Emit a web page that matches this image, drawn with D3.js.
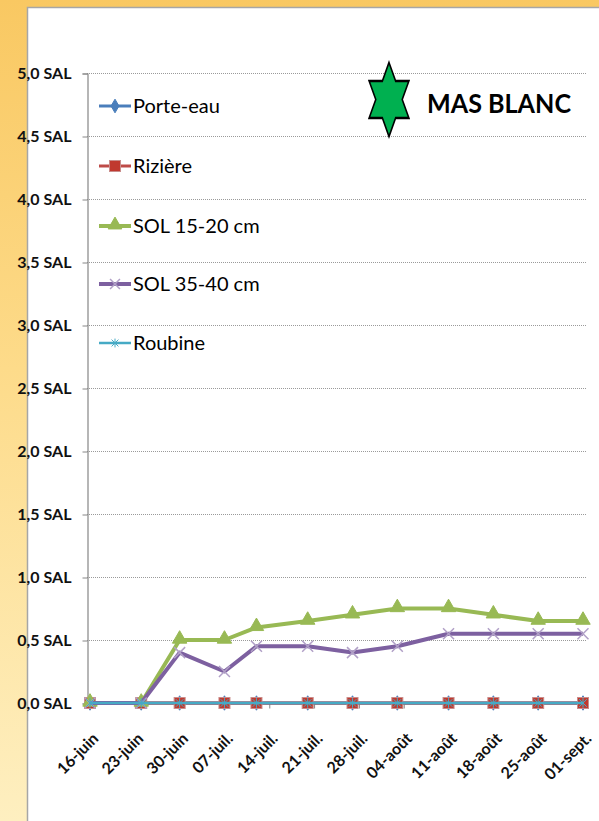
<!DOCTYPE html>
<html>
<head>
<meta charset="utf-8">
<script src="https://cdn.jsdelivr.net/npm/d3@7"></script>
<style>
  body { margin: 0; background: #fff; }
  svg { display: block; }
</style>
</head>
<body>
<div id="chart"></div>
<script>
// sample dates (measurement days) and weekly axis ticks
var sampleDates = ["2011-06-16", "2011-06-24", "2011-06-30", "2011-07-07", "2011-07-12", "2011-07-20",
                   "2011-07-27", "2011-08-03", "2011-08-11", "2011-08-18", "2011-08-25", "2011-09-01"];
var tickDates = ["2011-06-16", "2011-06-23", "2011-06-30", "2011-07-07", "2011-07-14", "2011-07-21",
                 "2011-07-28", "2011-08-04", "2011-08-11", "2011-08-18", "2011-08-25", "2011-09-01"];
var yTicks = [0, 0.5, 1, 1.5, 2, 2.5, 3, 3.5, 4, 4.5, 5];

var seriesNames = ["Porte-eau", "Rizière", "SOL 15-20 cm", "SOL 35-40 cm", "Roubine"];
var porteEau = [0, 0, 0, 0, 0, 0, 0, 0, 0, 0, 0, 0];
var riziere  = [0, 0, 0, 0, 0, 0, 0, 0, 0, 0, 0, 0];
var sol1520  = [0, 0, 0.5, 0.5, 0.6, 0.65, 0.7, 0.75, 0.75, 0.7, 0.65, 0.65];
var sol3540  = [0, 0, 0.4, 0.25, 0.45, 0.45, 0.4, 0.45, 0.55, 0.55, 0.55, 0.55];
var roubine  = [0, 0, 0, 0, 0, 0, 0, 0, 0, 0, 0, 0];

var title = "MAS BLANC";

var W = 599, H = 821;
var FONT = "Lato, 'Open Sans', sans-serif";
var parseDate = d3.timeParse("%Y-%m-%d");
var fr = d3.timeFormatLocale({
  dateTime: "%A %e %B %Y à %X", date: "%d/%m/%Y", time: "%H:%M:%S",
  periods: ["AM", "PM"],
  days: ["dimanche","lundi","mardi","mercredi","jeudi","vendredi","samedi"],
  shortDays: ["dim.","lun.","mar.","mer.","jeu.","ven.","sam."],
  months: ["janvier","février","mars","avril","mai","juin","juillet","août","septembre","octobre","novembre","décembre"],
  shortMonths: ["janv.","févr.","mars","avr.","mai","juin","juil.","août","sept.","oct.","nov.","déc."]
});
var fmtTick = fr.format("%d-%b");

var series = [
  {name: seriesNames[0], values: porteEau, color: "#4a7ebb", marker: "diamond", width: 3},
  {name: seriesNames[1], values: riziere,  color: "#be4b48", marker: "square",  width: 3},
  {name: seriesNames[2], values: sol1520,  color: "#98b954", marker: "triangle", width: 4},
  {name: seriesNames[3], values: sol3540,  color: "#7d60a0", marker: "cross",   width: 4},
  {name: seriesNames[4], values: roubine,  color: "#46aac5", marker: "star",    width: 2.5}
];

var svg = d3.select("#chart").append("svg")
    .attr("width", W).attr("height", H);

// background frame
var defs = svg.append("defs");
var grad = defs.append("linearGradient").attr("id", "bg")
    .attr("x1", 0).attr("y1", 0).attr("x2", 0).attr("y2", 1);
grad.append("stop").attr("offset", "0%").attr("stop-color", "#f9c862");
grad.append("stop").attr("offset", "45%").attr("stop-color", "#fddb8a");
grad.append("stop").attr("offset", "100%").attr("stop-color", "#feefc0");
svg.append("rect").attr("width", W).attr("height", H).attr("fill", "url(#bg)");
svg.append("rect").attr("x", 27.5).attr("y", 7.5).attr("width", W).attr("height", H)
    .attr("fill", "#fff").attr("stroke", "#a6a6a6").attr("stroke-width", 1.5);

var x = d3.scaleTime()
    .domain([parseDate(tickDates[0]), parseDate(tickDates[tickDates.length - 1])])
    .range([90, 583]);
var y = d3.scaleLinear().domain([0, 5]).range([703, 73]);

// gridlines
svg.append("g").selectAll("line").data(yTicks.slice(1)).enter().append("line")
    .attr("x1", 87).attr("x2", 586)
    .attr("y1", function(d) { return Math.round(y(d)) + 0.5; })
    .attr("y2", function(d) { return Math.round(y(d)) + 0.5; })
    .attr("stroke", "#9a9a9a").attr("stroke-width", 1).attr("stroke-dasharray", "1,1");

// y axis
var yAxis = svg.append("g").attr("transform", "translate(87.5,0.5)")
    .call(d3.axisLeft(y).tickValues(yTicks).tickSize(5).tickPadding(11)
      .tickFormat(function(d) { return d3.format(".1f")(d).replace(".", ",") + " SAL"; }));
yAxis.select(".domain").attr("stroke", "#868686").attr("stroke-width", 1.2);
yAxis.selectAll(".tick line").attr("stroke", "#868686");
yAxis.selectAll("text").attr("font-family", FONT)
    .attr("font-weight", "bold").attr("font-size", 16).attr("fill", "#111")
    .attr("dy", "0.34em");

// x axis
var xAxis = svg.append("g").attr("transform", "translate(0,703.5)")
    .call(d3.axisBottom(x).tickValues(tickDates.map(parseDate)).tickSize(5).tickSizeOuter(0)
      .tickFormat(fmtTick));
xAxis.select(".domain").attr("stroke", "#868686").attr("stroke-width", 1.2);
xAxis.selectAll(".tick line").attr("stroke", "#868686");
xAxis.selectAll("text")
    .attr("font-family", FONT)
    .attr("font-weight", "bold").attr("font-size", 16).attr("fill", "#111")
    .attr("text-anchor", "end")
    .attr("dy", 0).attr("y", 0)
    .attr("transform", "translate(9,36) rotate(-45)");

// marker drawing
function drawMarker(g, type, color, size) {
  if (type === "diamond") {
    g.append("path").attr("d", d3.symbol(d3.symbolDiamond, size * 6)())
      .attr("fill", color).attr("stroke", color);
  } else if (type === "square") {
    g.append("rect").attr("x", -5.5).attr("y", -5.5).attr("width", 11).attr("height", 11)
      .attr("fill", "#c0392f").attr("stroke", "#c98d8b").attr("stroke-width", 1);
  } else if (type === "triangle") {
    g.append("path").attr("d", d3.symbol(d3.symbolTriangle, size * 9)())
      .attr("fill", color).attr("stroke", color).attr("transform", "translate(0,-1)");
  } else if (type === "cross") {
    var s = size * 0.55;
    g.append("path").attr("d", "M" + (-s) + "," + (-s) + "L" + s + "," + s + "M" + (-s) + "," + s + "L" + s + "," + (-s))
      .attr("stroke", "#b1a0c7").attr("stroke-width", 1.5).attr("fill", "none");
  } else if (type === "star") {
    var t = size * 0.38;
    g.append("path").attr("d", "M" + (-t) + "," + (-t) + "L" + t + "," + t + "M" + (-t) + "," + t + "L" + t + "," + (-t) + "M0," + (-t - 1) + "L0," + (t + 1))
      .attr("stroke", color).attr("stroke-width", 1).attr("fill", "none");
  }
}

var line = d3.line()
    .x(function(d, i) { return x(parseDate(sampleDates[i])); })
    .y(function(d) { return y(d); });

series.forEach(function(s) {
  var g = svg.append("g").attr("class", "series");
  g.append("path").datum(s.values).attr("d", line)
    .attr("fill", "none").attr("stroke", s.color).attr("stroke-width", s.width)
    .attr("stroke-linejoin", "round");
  g.selectAll("g.pt").data(s.values).enter().append("g").attr("class", "pt")
    .attr("transform", function(d, i) { return "translate(" + x(parseDate(sampleDates[i])) + "," + y(d) + ")"; })
    .each(function() { drawMarker(d3.select(this), s.marker, s.color, 10); });
});

// legend
var legend = svg.append("g").selectAll("g").data(series).enter().append("g")
    .attr("transform", function(d, i) { return "translate(99," + [106, 166, 226, 284, 343][i] + ")"; });
legend.append("line").attr("x1", 0).attr("x2", 32)
    .attr("stroke", function(d) { return d.color; }).attr("stroke-width", function(d) { return d.width; });
legend.append("g").attr("transform", "translate(16,0)")
    .each(function(d) { drawMarker(d3.select(this), d.marker, d.color, 9); });
legend.append("text").attr("x", 34).attr("dy", "0.35em")
    .attr("font-family", FONT).attr("font-size", 20).attr("fill", "#000")
    .text(function(d) { return d.name; });

// title with green hexagram
var star = svg.append("g").attr("transform", "translate(389,99.5) scale(0.62,1)");
var R = 37, r = R / Math.sqrt(3);
var pts = d3.range(12).map(function(k) {
  var a = -Math.PI / 2 + k * Math.PI / 6;
  var rad = k % 2 === 0 ? R : r;
  return [rad * Math.cos(a), rad * Math.sin(a)];
});
star.append("path").attr("d", "M" + pts.join("L") + "Z")
    .attr("fill", "#00b050").attr("stroke", "#000").attr("stroke-width", 2.4);

svg.append("text").attr("x", 427).attr("y", 113)
    .attr("font-family", FONT).attr("font-weight", "bold")
    .attr("font-size", 27).attr("fill", "#000")
    .attr("textLength", 144).attr("lengthAdjust", "spacingAndGlyphs")
    .text(title);
</script>
</body>
</html>
